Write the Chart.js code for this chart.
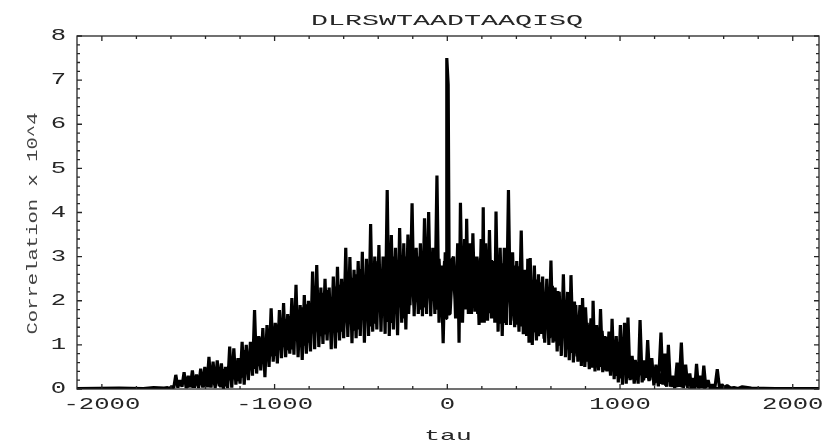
<!DOCTYPE html>
<html><head><meta charset="utf-8">
<style>html,body{margin:0;padding:0;background:#fff}#w{width:826px;height:444px}</style>
<script src="https://cdn.jsdelivr.net/npm/chart.js@4"></script></head>
<body><div id="w"><canvas id="c" width="826" height="444"></canvas></div>
<script>
const chartTitle = "DLRSWTAADTAAQISQ";
const xLabel = "tau";
const yLabel = "Correlation x 10^4";
const xLabelled = [-2000,-1000,0,1000,2000];
const tau = [
-2144,-1900,-1760,-1700,-1640,
-1620,-1608,-1596,-1584,-1572,-1560,-1548,-1536,-1524,-1512,-1500,-1488,-1476,-1464,-1452,-1440,-1428,-1416,-1404,-1392,-1380,-1368,-1356,-1344,-1332,-1320,-1308,-1296,-1284,-1272,-1260,-1248,-1236,-1224,-1212,-1200,-1188,-1176,-1164,-1152,-1140,-1128,-1116,-1104,-1092,-1080,-1068,-1056,-1044,-1032,-1020,-1008,-996,-984,-972,-960,-948,-936,-924,-912,-900,-888,-876,-864,-852,-840,-828,-816,-804,-792,-780,-768,-756,-744,-732,-720,-708,-696,-684,-672,-660,-648,-636,-624,-612,-600,-588,-576,-564,-552,-540,-528,-516,-504,-492,-480,-468,-456,-444,-432,-420,-408,-396,-384,-372,-360,-348,-336,-324,-312,-300,-288,-276,-264,-252,-240,-228,-216,-204,-192,-180,-168,-156,-144,-132,-120,-108,-96,-84,-72,-60,-48,-36,-24,-12,-6,-3,5,12,24,
36,48,60,68,76,88,100,106,112,122,132,140,148,160,172,184,196,202,208,214,222,233,244,256,268,275,282,294,306,318,330,342,354,366,378,390,402,415,428,440,452,459,466,473,480,492,504,516,528,540,552,564,576,588,600,612,624,636,648,660,672,684,696,706,716,730,744,756,768,776,783,796,810,822,834,839,844,855,866,876,887,900,912,924,936,945,954,966,978,990,1002,1014,1026,1036,1046,1058,1070,1082,1094,1105,1116,1128,1140,1150,1160,1172,1184,1196,1208,1222,1237,1248,1260,1270,1280,1292,1304,1317,1330,1342,1355,1367,1380,1392,1404,1414,1424,1433,1443,1454,1466,1475,1485,1497,1510,1522,1535,1549,1563,1576,1590,1605,1620,1640,1660,1684,1708,1760,1900,2152];
const corr = [
0.01,0.02,0.01,0.03,0.02,
0.03,0.01,0.06,0.02,0.32,0.03,0.2,0.05,0.38,0.02,0.3,0.04,0.42,0.03,0.33,0.02,0.46,0.03,0.5,0.04,0.73,0.03,0.62,0.02,0.65,0.06,0.58,0,0.5,0.02,0.96,0.03,0.92,0.1,0.7,0.12,1.07,0.1,1,0.2,1.07,0.3,1.79,0.35,1.2,0.42,1.38,0.27,1.45,0.5,1.83,0.62,1.5,0.58,1.79,0.7,1.95,0.72,1.7,0.8,2.06,0.78,2.36,0.72,1.9,0.66,2.13,0.8,2,0.85,2.66,0.9,2.81,0.95,2.3,1.02,2.5,1.1,2.3,0.9,2.55,0.92,2.77,1.1,2.5,1.15,3.2,1.18,2.99,1.04,2.7,1.15,2.9,1.2,3.11,1.05,2.95,1.2,3.74,1.3,3,1.35,3.26,1.3,3,1.25,4.51,1.2,3.49,1.35,3.2,1.22,3.65,1.5,3.3,1.35,3.5,1.9,4.21,1.65,3.2,1.7,3.3,1.65,3.87,1.7,4.01,1.65,3.2,1.7,4.84,1.5,2.8,1.04,3.1,1.6,7.5,6.9,1.7,2.9,
3,1.6,3.3,1.05,4.22,1.5,3.4,1.8,3.86,1.7,3.3,1.7,3.53,1.75,3,1.45,3.4,1.5,4.12,1.5,3.3,1.55,3.6,1.6,2.9,1.5,4.02,1.3,3.2,1.2,3.2,1.45,4.51,1.45,3.1,1.4,2.9,1.3,3.59,1.24,2.6,1.2,2.95,1.05,2.97,1,2.8,1.1,2.6,1.25,2.55,1.05,2.5,1,2.91,1.05,2.3,0.85,2.2,0.75,2.6,0.72,2.2,0.65,2.58,0.6,1.9,0.62,1.75,0.52,2.06,0.5,1.5,0.45,1.3,0.48,2,0.4,1.2,0.42,1.81,0.38,1.2,0.4,1.3,0.3,1.59,0.22,1.2,0.15,1.45,0.1,1.5,0.12,1.62,0.2,0.75,0.12,0.6,0.12,1.56,0.15,0.65,0.25,1.11,0.2,0.7,0.08,0.55,0.06,1.28,0.1,0.8,0.05,1,0.05,0.3,0.02,0.6,0.05,1.05,0.02,0.55,0.02,0.35,0.01,0.25,0.01,0.57,0.02,0.3,0.02,0.53,0.02,0.2,0.01,0.1,0.02,0.45,0.02,0.1,0.03,0.08,0.02,0.03,0.01,0.05,0.02,0.01,0.01];
// Solid core of the trace, read as top/bottom of the black band.
const coreTau = [2152,1640,1530,1504,1488,1472,1456,1440,1424,1408,1392,1376,1360,1344,1328,1312,1296,1280,1264,1248,1232,1216,1200,1184,1168,1152,1136,1120,1104,1088,1072,1056,1040,1024,1008,992,976,960,944,928,912,896,880,864,848,832,816,800,784,768,752,736,720,704,688,672,656,640,624,608,592,576,560,544,528,512,496,480,464,448,432,416,400,384,368,352,336,320,304,288,272,256,240,224,208,192,176,160,144,128,112,96,80,64,48,32,16,0,-16,-32,-48,-64,-80,-96,-112,-128,-144,-160,-176,-192,-208,-224,-240,-256,-272,-288,-304,-320,-336,-352,-368,-384,-400,-416,-432,-448,-464,-480,-496,-512,-528,-544,-560,-576,-592,-608,-624,-640,-656,-672,-688,-704,-720,-736,-752,-768,-784,-800,-816,-832,-848,-864,-880,-896,-912,-928,-944,-960,-976,-992,-1008,-1024,-1040,-1056,-1072,-1088,-1104,-1120,-1136,-1152,-1168,-1184,-1200,-1216,-1232,-1248,-1264,-1280,-1296,-1312,-1328,-1344,-1360,-1376,-1392,-1408,-1424,-1440,-1456,-1472,-1488,-1504];
const coreCorr = [0.01,0.01,0.01,0.12,0.02,0.16,0.02,0.2,0.03,0.22,0.03,0.26,0.04,0.3,0.05,0.28,0.05,0.35,0.08,0.42,0.12,0.44,0.14,0.5,0.18,0.55,0.2,0.58,0.24,0.66,0.22,0.72,0.25,0.85,0.24,0.98,0.3,1.02,0.36,1.18,0.42,1.32,0.5,1.45,0.55,1.6,0.62,1.85,0.68,1.9,0.74,1.98,0.82,2.1,0.9,2.14,0.98,2.22,1.08,2.34,1.15,2.36,1.14,2.42,1.2,2.48,1.28,2.56,1.3,2.7,1.42,2.78,1.46,2.8,1.55,2.84,1.5,2.85,1.48,2.9,1.6,2.92,1.72,2.95,1.7,2.96,1.7,3,1.85,3,1.85,3.02,1.8,2.95,1.75,2.95,1.7,1.7,2.9,1.7,2.95,1.8,2.95,1.8,3,1.85,3,1.8,3,1.75,3.05,1.7,3,1.6,3.02,1.55,3,1.5,2.98,1.52,2.92,1.5,2.9,1.48,2.85,1.42,2.78,1.38,2.72,1.35,2.6,1.32,2.52,1.28,2.42,1.3,2.36,1.28,2.32,1.25,2.24,1.24,2.18,1.2,2.12,1.12,2,1.05,1.92,0.98,1.85,0.95,1.75,0.9,1.65,0.88,1.58,0.82,1.48,0.75,1.38,0.74,1.28,0.62,1.18,0.52,1.05,0.46,0.96,0.38,0.88,0.26,0.7,0.18,0.62,0.12,0.58,0.06,0.45,0.04,0.42,0.04,0.36,0.04,0.34,0.04,0.32,0.04,0.28,0.03,0.26,0.03];

const ink = "#262626";
// The source figure's type is stretched along its baseline.
function stretched(ctx, obj, method, sx, dx){
  const orig = obj[method];
  obj[method] = function(){
    const native = ctx.fillText;
    ctx.fillText = function(s,x,y){
      ctx.save(); ctx.translate(x+(dx||0),y); ctx.scale(sx,1);
      native.call(ctx,s,0,0); ctx.restore();
    };
    orig.apply(obj, arguments);
    delete ctx.fillText;
  };
}
const framePlugin = {
  id:"frame",
  afterLayout(chart){
    if (chart.$wrapped) return; chart.$wrapped = true;
    const a = chart.chartArea, ctx = chart.ctx;
    chart.titleBlock.left = a.left; chart.titleBlock.right = a.right;
    stretched(ctx, chart.titleBlock, "draw", 1.89, -1);
    stretched(ctx, chart.scales.x, "drawLabels", 1.6);
    stretched(ctx, chart.scales.y, "drawLabels", 1.6);
    stretched(ctx, chart.scales.x, "drawTitle", 1.75);
    stretched(ctx, chart.scales.y, "drawTitle", 1.37, -11);
  },
  afterDatasetsDraw(chart){
    const {ctx, chartArea:a, scales:{x,y}} = chart;
    ctx.save(); ctx.strokeStyle = ink; ctx.lineWidth = 1.3;
    ctx.strokeRect(a.left, a.top, a.right-a.left, a.bottom-a.top);
    ctx.beginPath();
    x.ticks.forEach(t=>{
      const p = x.getPixelForValue(t.value), l = t.value % 1000 === 0 ? 5 : 3;
      ctx.moveTo(p,a.bottom); ctx.lineTo(p,a.bottom-l);
      ctx.moveTo(p,a.top); ctx.lineTo(p,a.top+l);
    });
    y.ticks.forEach(t=>{
      const p = y.getPixelForValue(t.value), l = Math.abs(t.value-Math.round(t.value))<1e-6 ? 5 : 3;
      ctx.moveTo(a.left,p); ctx.lineTo(a.left+l,p);
      ctx.moveTo(a.right,p); ctx.lineTo(a.right-l,p);
    });
    ctx.stroke(); ctx.restore();
  }
};
const trace = tau.map((t,i)=>({x:t,y:corr[i]})).concat(coreTau.map((t,i)=>({x:t,y:coreCorr[i]})));
new Chart(document.getElementById("c"),{
  type:"line",
  plugins:[framePlugin],
  data:{datasets:[{label:yLabel,data:trace,parsing:false,normalized:false,borderColor:"#000",borderWidth:3.2,pointRadius:0,tension:0,borderJoinStyle:"bevel",fill:false}]},
  options:{
    responsive:false,animation:false,
    layout:{padding:{top:0,right:7,bottom:0,left:0}},
    plugins:{
      legend:{display:false},tooltip:{enabled:false},
      title:{display:true,text:chartTitle,color:ink,align:"center",
        font:{family:"Liberation Mono",size:15,weight:"normal",lineHeight:1.2},
        padding:{top:12,bottom:6}}
    },
    scales:{
      x:{type:"linear",min:-2144,max:2152,
        afterFit(s){s.height=55;},
        grid:{display:false},border:{display:false},
        title:{display:true,text:xLabel,color:ink,font:{family:"Liberation Mono",size:15},padding:{top:0,bottom:-1}},
        ticks:{stepSize:200,includeBounds:false,autoSkip:false,maxRotation:0,padding:-2,color:ink,font:{family:"Liberation Mono",size:16},
          callback:v=>xLabelled.includes(v)?String(v):""}},
      y:{type:"linear",min:0,max:8,
        afterFit(s){s.width=77;},
        grid:{display:false},border:{display:false},
        title:{display:true,text:yLabel,color:"#444",font:{family:"Liberation Mono",size:15},padding:{top:24,bottom:0}},
        ticks:{stepSize:0.2,autoSkip:false,padding:3,color:ink,font:{family:"Liberation Mono",size:16},
          callback:v=>Math.abs(v-Math.round(v))<1e-6?String(Math.round(v)):""}}
    }
  }
});
</script></body></html>
